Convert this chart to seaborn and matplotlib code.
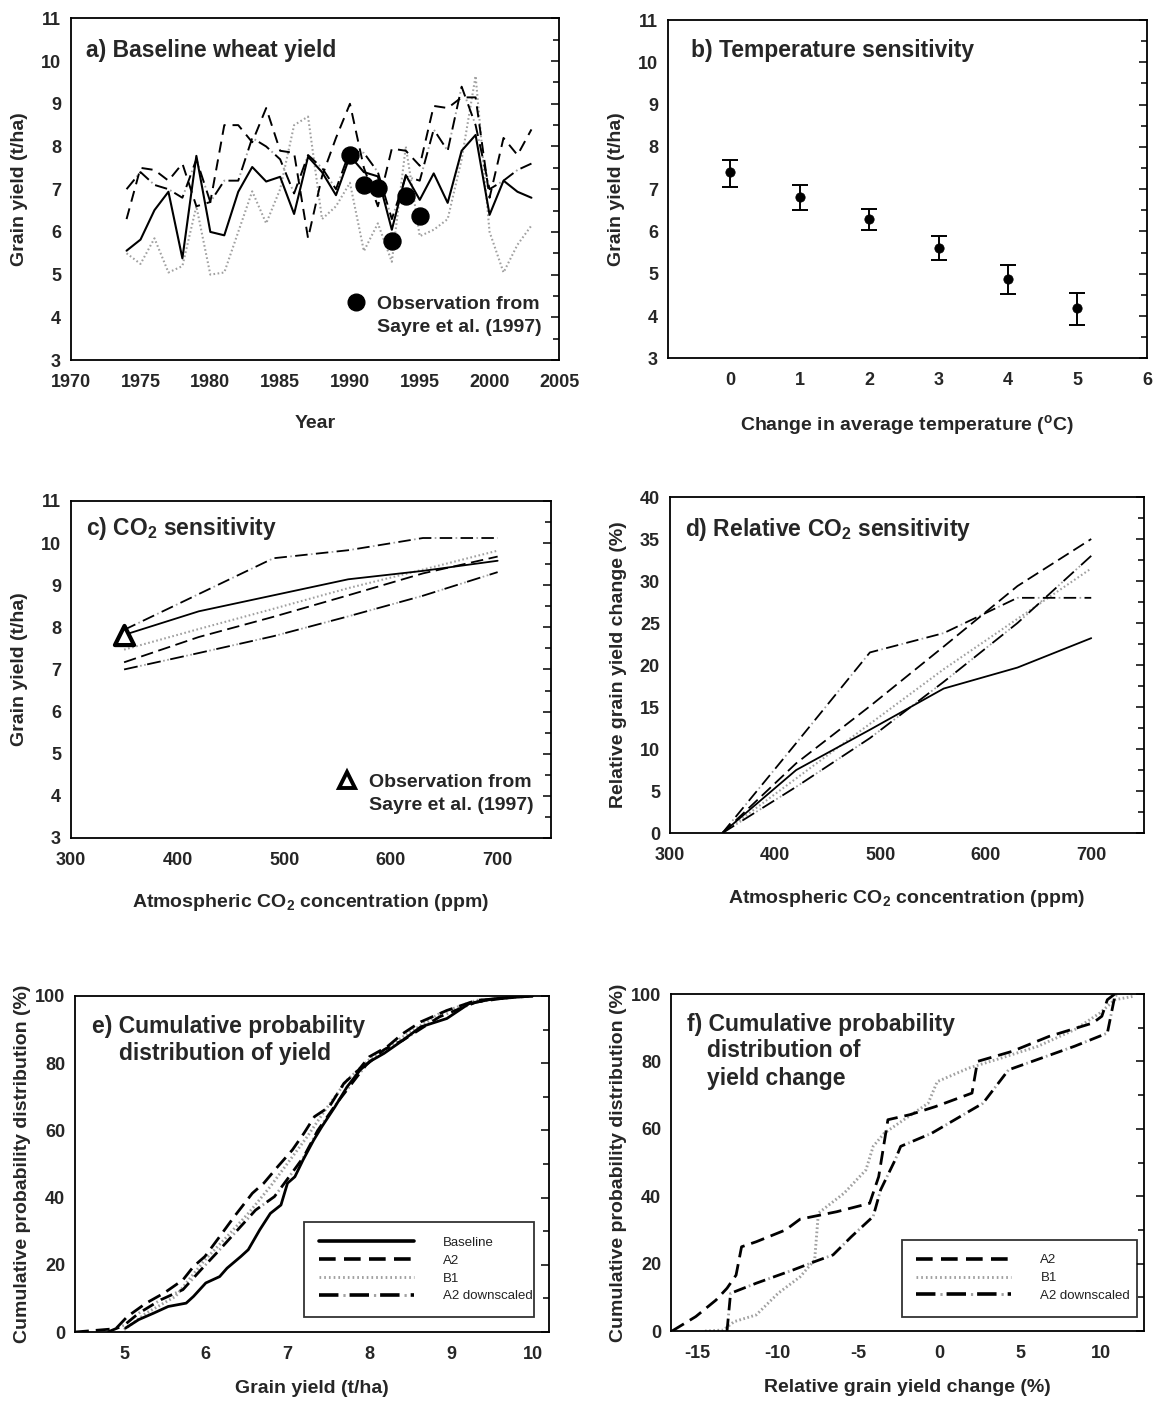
import numpy as np
import pandas as pd
import matplotlib
matplotlib.use("Agg")
import matplotlib.pyplot as plt
import seaborn as sns
from matplotlib.ticker import MultipleLocator
from matplotlib.lines import Line2D
from matplotlib.legend_handler import HandlerTuple

# ---------------- data ----------------
years = list(range(1974, 2004))
yield_baseline = [5.56, 5.82, 6.51, 6.94, 5.38, 7.78, 6.00, 5.92, 6.94, 7.52,
                  7.18, 7.29, 6.42, 7.76, 7.40, 6.86, 7.78, 7.40, 7.30, 6.05,
                  7.33, 6.75, 7.37, 6.68, 7.90, 8.27, 6.40, 7.20, 6.94, 6.80]
yield_a2 = [6.30, 7.50, 7.45, 7.20, 7.60, 6.60, 6.70, 8.50, 8.50, 8.10,
            8.90, 7.90, 7.85, 5.85, 7.30, 8.20, 9.00, 7.50, 6.60, 7.95,
            7.90, 7.55, 8.95, 8.90, 9.15, 9.15, 6.80, 8.20, 7.80, 8.40]
yield_b1 = [5.50, 5.25, 5.85, 5.05, 5.20, 6.60, 5.00, 5.05, 6.00, 6.95,
            6.20, 7.00, 8.50, 8.70, 6.30, 6.60, 7.15, 5.55, 6.20, 5.30,
            8.00, 5.90, 6.05, 6.30, 7.70, 9.65, 6.00, 5.05, 5.70, 6.15]
yield_a2_down = [7.00, 7.40, 7.10, 7.00, 6.80, 7.70, 6.70, 7.20, 7.20, 8.20,
                 8.00, 7.70, 6.90, 7.80, 7.50, 7.00, 7.90, 7.85, 7.40, 6.30,
                 7.30, 7.20, 8.40, 7.90, 9.40, 8.50, 7.00, 7.20, 7.45, 7.60]
obs_years = [1990, 1991, 1992, 1993, 1994, 1995]
obs_yield = [7.80, 7.10, 7.02, 5.78, 6.83, 6.38]

temp_change = [0, 1, 2, 3, 4, 5]
temp_yield = [7.40, 6.82, 6.30, 5.62, 4.88, 4.18]
temp_low = [7.05, 6.50, 6.03, 5.32, 4.53, 3.78]
temp_high = [7.70, 7.10, 6.53, 5.90, 5.20, 4.55]

co2_ppm = [350, 420, 490, 560, 630, 700]
co2_baseline = [7.82, 8.38, 8.76, 9.14, 9.34, 9.58]
co2_a2 = [7.17, 7.77, 8.25, 8.76, 9.28, 9.68]
co2_b1 = [7.47, 7.96, 8.44, 8.93, 9.37, 9.82]
co2_a2_down = [7.00, 7.39, 7.79, 8.26, 8.75, 9.31]
co2_other = [7.94, 8.79, 9.64, 9.83, 10.12, 10.12]
co2_obs_ppm = [350]
co2_obs_yield = [7.82]

rel_baseline = [0, 7.5, 12.3, 17.2, 19.7, 23.2]
rel_a2 = [0, 8.3, 15.1, 22.2, 29.4, 35.0]
rel_b1 = [0, 6.5, 13.0, 19.5, 25.5, 31.5]
rel_a2_down = [0, 5.5, 11.3, 18.0, 25.0, 33.0]
rel_other = [0, 10.7, 21.5, 23.8, 28.0, 28.0]

cdf_base_x = [5.02, 5.18, 5.36, 5.54, 5.76, 5.85, 6.00, 6.17, 6.26, 6.43, 6.52, 6.66,
              6.79, 6.92, 7.00, 7.09, 7.19, 7.32, 7.42, 7.58, 7.73, 7.89, 8.00, 8.18,
              8.41, 8.63, 8.95, 9.22, 9.53, 10.0]
cdf_base_y = [1.2, 3.7, 5.6, 7.6, 8.6, 10.6, 14.6, 16.5, 19.0, 22.5, 24.5, 30.4,
              35.3, 37.8, 44.3, 46.2, 51.2, 57.1, 61.1, 67.0, 73.0, 78.0, 80.4, 82.9,
              86.8, 90.8, 93.3, 97.7, 99.2, 100.0]
cdf_a2_x = [4.40, 4.65, 4.90, 5.04, 5.27, 5.49, 5.72, 5.85, 5.99, 6.17, 6.35, 6.57,
            6.71, 6.88, 7.06, 7.20, 7.33, 7.51, 7.69, 7.87, 8.00, 8.22, 8.41, 8.63,
            8.95, 9.31, 10.0]
cdf_a2_y = [0.0, 0.5, 1.0, 4.6, 8.6, 11.6, 15.5, 19.5, 22.5, 28.4, 34.4, 41.3,
            44.3, 49.2, 54.2, 59.1, 64.1, 67.0, 74.0, 78.0, 81.9, 84.9, 88.8, 92.3,
            95.7, 98.7, 100.0]
cdf_b1_x = [5.00, 5.27, 5.63, 5.99, 6.26, 6.52, 6.79, 7.00, 7.24, 7.46, 7.73, 8.00,
            8.41, 8.86, 9.31, 10.0]
cdf_b1_y = [0.7, 5.6, 10.6, 21.5, 28.4, 35.3, 43.3, 50.2, 58.1, 66.0, 75.0, 81.0,
            87.8, 94.8, 98.7, 100.0]
cdf_a2d_x = [4.80, 5.00, 5.18, 5.45, 5.72, 5.94, 6.17, 6.39, 6.61, 6.84, 7.02, 7.20,
             7.37, 7.60, 7.82, 7.96, 8.18, 8.41, 8.86, 9.31, 9.75, 10.0]
cdf_a2d_y = [0.0, 2.0, 5.6, 9.6, 12.6, 18.5, 24.5, 30.4, 36.3, 40.3, 46.2, 52.2,
             60.0, 68.0, 75.0, 79.4, 84.0, 86.8, 93.8, 98.2, 99.7, 100.0]

chg_a2_x = [-16.54, -15.07, -13.82, -13.14, -12.58, -12.24, -11.33, -9.52, -8.62, -6.36,
            -4.32, -3.76, -3.19, -1.83, -0.25, 2.01, 2.35, 4.50, 6.76, 9.48, 10.04, 10.38, 10.84]
chg_a2_y = [0.0, 4.3, 9.2, 12.7, 16.6, 25.0, 26.5, 30.0, 33.2, 35.4,
            37.9, 45.8, 62.7, 64.2, 66.6, 70.6, 80.0, 83.0, 87.4, 91.4, 93.4, 98.3, 100.0]
chg_b1_x = [-14.50, -13.37, -12.70, -11.33, -9.98, -8.62, -7.72, -7.49, -5.90, -4.55,
            -4.10, -3.42, -2.51, -0.70, -0.14, 1.79, 3.82, 6.09, 8.35, 9.93, 10.84, 11.97]
chg_b1_y = [0.0, 0.3, 2.8, 4.8, 11.2, 16.1, 21.1, 35.0, 40.9, 47.8,
            54.8, 58.7, 61.7, 67.6, 74.0, 78.0, 81.0, 84.5, 89.4, 94.4, 98.3, 99.3]
chg_a2d_x = [-13.14, -12.92, -11.33, -9.07, -7.72, -6.58, -5.45, -4.10, -3.64, -2.74,
             -2.40, -0.48, 2.69, 4.27, 6.31, 8.35, 10.38, 10.84, 11.06]
chg_a2d_y = [0.0, 11.2, 14.2, 18.1, 20.6, 22.6, 28.0, 34.0, 41.9, 50.8,
             54.8, 58.7, 67.6, 77.5, 81.0, 84.5, 88.4, 99.3, 100.0]

legend_e = ["Baseline", "A2", "B1", "A2 downscaled"]
legend_f = ["A2", "B1", "A2 downscaled"]

# ---------------- style ----------------
sns.set_style("white")
plt.rcParams["font.family"] = ["Liberation Sans", "DejaVu Sans"]
plt.rcParams["font.weight"] = "bold"
plt.rcParams["axes.labelweight"] = "bold"
plt.rcParams["axes.unicode_minus"] = False
plt.rcParams["mathtext.fontset"] = "custom"
plt.rcParams["mathtext.rm"] = "Liberation Sans:bold"
plt.rcParams["mathtext.bf"] = "Liberation Sans:bold"
plt.rcParams["mathtext.it"] = "Liberation Sans:bold:italic"
plt.rcParams["lines.scale_dashes"] = False

GREY = "#a0a0a0"
TICK_FS = 13
LABEL_FS = 14
TITLE_FS = 16.5

fig = plt.figure(figsize=(11.61, 14.02), dpi=100)
ax_a = fig.add_axes([0.0609, 0.7432, 0.4209, 0.2437])
ax_b = fig.add_axes([0.5751, 0.7444, 0.4128, 0.2413])
ax_c = fig.add_axes([0.0609, 0.4023, 0.4137, 0.2404])
ax_d = fig.add_axes([0.5768, 0.4058, 0.4085, 0.2397])
ax_e = fig.add_axes([0.0646, 0.0499, 0.4083, 0.2397])
ax_f = fig.add_axes([0.5780, 0.0506, 0.4074, 0.2404])


def draw(ax, x, y, style, lw=1.1, dash=(9, 4)):
    df = pd.DataFrame({"x": x, "y": y})
    kw = dict(data=df, x="x", y="y", ax=ax, estimator=None, sort=False, legend=False)
    if style == "solid":
        sns.lineplot(color="black", lw=lw, **kw)
    elif style == "dashed":
        sns.lineplot(color="black", lw=lw, linestyle=(0, dash), **kw)
    elif style == "dotted":
        sns.lineplot(color=GREY, lw=lw * 1.15, linestyle=(0, (1.2, 1.8)), **kw)
    elif style == "dashdot":
        on, off = 9, 6
        sns.lineplot(color="black", lw=lw, linestyle=(0, (on, off)), **kw)
        sns.lineplot(color=GREY, lw=lw, linestyle=(-(on + off / 2 - 0.6), (1.2, on + off - 1.2)), **kw)
    elif style == "dashdotdot":
        on, off = 10, 7
        sns.lineplot(color="black", lw=lw, linestyle=(0, (on, off)), **kw)
        sns.lineplot(color=GREY, lw=lw, linestyle=(-(on + 1.8), (1.2, 1.8, 1.2, on + off - 4.2)), **kw)


def style_axes(ax, xlim, ylim, xmaj, xmin, ymaj, ymin):
    ax.set_xlim(*xlim)
    ax.set_ylim(*ylim)
    ax.xaxis.set_major_locator(MultipleLocator(xmaj))
    ax.yaxis.set_major_locator(MultipleLocator(ymaj))
    if xmin:
        ax.xaxis.set_minor_locator(MultipleLocator(xmin))
    if ymin:
        ax.yaxis.set_minor_locator(MultipleLocator(ymin))
    ax.tick_params(which="both", direction="in", right=True, top=False,
                   labelsize=TICK_FS, width=1.1, color="black")
    ax.tick_params(which="major", length=6)
    ax.tick_params(which="minor", length=4)
    ax.tick_params(axis="x", which="major", pad=10)
    ax.tick_params(axis="y", which="major", pad=7)
    for s in ax.spines.values():
        s.set_visible(True)
        s.set_color("black")
        s.set_linewidth(1.3)
    for lab in ax.get_xticklabels() + ax.get_yticklabels():
        lab.set_fontweight("bold")


def obs_legend(ax, marker, mfc, ms, mew):
    h1 = Line2D([], [], marker=marker, color="black", mfc=mfc, ms=ms, mew=mew, linestyle="none")
    h2 = Line2D([], [], linestyle="none")
    leg = ax.legend([h1, h2], ["Observation from", "Sayre et al. (1997)"], loc="lower right",
                    bbox_to_anchor=(1.0, 0.02), frameon=False, fontsize=14,
                    handlelength=1.0, handletextpad=0.6, labelspacing=0.25, borderaxespad=0.5)
    for t in leg.get_texts():
        t.set_fontweight("bold")


# ---------------- a ----------------
draw(ax_a, years, yield_b1, "dotted", lw=1.3)
draw(ax_a, years, yield_a2_down, "dashdot", lw=1.4)
draw(ax_a, years, yield_a2, "dashed", lw=1.4, dash=(8, 5))
draw(ax_a, years, yield_baseline, "solid", lw=1.5)
sns.scatterplot(x=obs_years, y=obs_yield, ax=ax_a, color="black", s=150, edgecolor="black", zorder=5)
style_axes(ax_a, (1970, 2005), (3, 11), 5, None, 1, 0.5)
ax_a.text(0.032, 0.907, "a) Baseline wheat yield", transform=ax_a.transAxes, fontsize=TITLE_FS,
          fontweight="bold", va="center")
obs_legend(ax_a, "o", "black", 12, 1)
ax_a.set_xlabel("Year", fontsize=LABEL_FS, labelpad=17)
ax_a.set_ylabel("Grain yield (t/ha)", fontsize=LABEL_FS, labelpad=9)

# ---------------- b ----------------
err_lo = [m - l for m, l in zip(temp_yield, temp_low)]
err_hi = [h - m for m, h in zip(temp_yield, temp_high)]
ax_b.errorbar(temp_change, temp_yield, yerr=[err_lo, err_hi], fmt="none", ecolor="black",
              elinewidth=1.4, capsize=5.5, capthick=1.4)
sns.scatterplot(x=temp_change, y=temp_yield, ax=ax_b, color="black", s=45, edgecolor="black", zorder=5)
style_axes(ax_b, (-0.9, 6), (3, 11), 1, 0.5, 1, 0.5)
ax_b.text(0.049, 0.911, "b) Temperature sensitivity", transform=ax_b.transAxes, fontsize=TITLE_FS,
          fontweight="bold", va="center")
ax_b.set_xlabel(r"Change in average temperature ($^{\mathrm{o}}$C)", fontsize=LABEL_FS, labelpad=17)
ax_b.set_ylabel("Grain yield (t/ha)", fontsize=LABEL_FS, labelpad=9)

# ---------------- c ----------------
draw(ax_c, co2_ppm, co2_b1, "dotted", lw=1.3)
draw(ax_c, co2_ppm, co2_a2_down, "dashdotdot", lw=1.3)
draw(ax_c, co2_ppm, co2_other, "dashdot", lw=1.3)
draw(ax_c, co2_ppm, co2_a2, "dashed", lw=1.3)
draw(ax_c, co2_ppm, co2_baseline, "solid", lw=1.3)
sns.scatterplot(x=co2_obs_ppm, y=co2_obs_yield, ax=ax_c, marker="^", s=190, facecolor="white",
                edgecolor="black", linewidth=3, zorder=5)
style_axes(ax_c, (300, 750), (3, 11), 100, 50, 1, 0.5)
ax_c.text(0.032, 0.919, r"c) CO$_2$ sensitivity", transform=ax_c.transAxes, fontsize=TITLE_FS,
          fontweight="bold", va="center")
obs_legend(ax_c, "^", "white", 12, 2.8)
ax_c.set_xlabel(r"Atmospheric CO$_2$ concentration (ppm)", fontsize=LABEL_FS, labelpad=17)
ax_c.set_ylabel("Grain yield (t/ha)", fontsize=LABEL_FS, labelpad=9)

# ---------------- d ----------------
draw(ax_d, co2_ppm, rel_b1, "dotted", lw=1.3)
draw(ax_d, co2_ppm, rel_a2_down, "dashdotdot", lw=1.3)
draw(ax_d, co2_ppm, rel_other, "dashdot", lw=1.3)
draw(ax_d, co2_ppm, rel_a2, "dashed", lw=1.3)
draw(ax_d, co2_ppm, rel_baseline, "solid", lw=1.3)
style_axes(ax_d, (300, 750), (0, 40), 100, 50, 5, 2.5)
ax_d.text(0.032, 0.903, r"d) Relative CO$_2$ sensitivity", transform=ax_d.transAxes, fontsize=TITLE_FS,
          fontweight="bold", va="center")
ax_d.set_xlabel(r"Atmospheric CO$_2$ concentration (ppm)", fontsize=LABEL_FS, labelpad=17)
ax_d.set_ylabel("Relative grain yield change (%)", fontsize=LABEL_FS, labelpad=9)


# ---------------- legend handles for e/f ----------------
def handle(style, lw=2.6):
    if style == "solid":
        return Line2D([], [], color="black", lw=lw)
    if style == "dashed":
        return Line2D([], [], color="black", lw=lw, linestyle=(0, (12, 6)))
    if style == "dotted":
        return Line2D([], [], color=GREY, lw=lw * 0.8, linestyle=(0, (1.2, 2.2)))
    on, off = 14, 8
    return (Line2D([], [], color="black", lw=lw, linestyle=(0, (on, off))),
            Line2D([], [], color=GREY, lw=lw * 0.8, linestyle=(-(on + off / 2 - 0.8), (1.6, on + off - 1.6))))


def cdf_legend(ax, styles, labels, box):
    leg = ax.legend([handle(s) for s in styles], labels, loc="lower left", bbox_to_anchor=box,
                    mode="expand", fontsize=9.5, handlelength=7.2, handletextpad=2.2,
                    labelspacing=0.42, borderpad=1.1, borderaxespad=0, frameon=True, fancybox=False,
                    handler_map={tuple: HandlerTuple(ndivide=1)})
    leg.get_frame().set_edgecolor("black")
    leg.get_frame().set_linewidth(1.3)
    for t in leg.get_texts():
        t.set_fontweight("normal")
        t.set_color("#222222")


# ---------------- e ----------------
draw(ax_e, cdf_b1_x, cdf_b1_y, "dotted", lw=1.8)
draw(ax_e, cdf_a2d_x, cdf_a2d_y, "dashdot", lw=2.0)
draw(ax_e, cdf_a2_x, cdf_a2_y, "dashed", lw=2.0, dash=(10, 5))
draw(ax_e, cdf_base_x, cdf_base_y, "solid", lw=2.0)
style_axes(ax_e, (4.4, 10.2), (0, 100), 1, 0.5, 20, 10)
ax_e.text(0.035, 0.908, "e) Cumulative probability", transform=ax_e.transAxes, fontsize=TITLE_FS,
          fontweight="bold", va="center")
ax_e.text(0.093, 0.829, "distribution of yield", transform=ax_e.transAxes, fontsize=TITLE_FS,
          fontweight="bold", va="center")
cdf_legend(ax_e, ["solid", "dashed", "dotted", "dashdot"], legend_e, (0.484, 0.045, 0.485, 0.28))
ax_e.set_xlabel("Grain yield (t/ha)", fontsize=LABEL_FS, labelpad=12)
ax_e.set_ylabel("Cumulative probability distribution (%)", fontsize=LABEL_FS, labelpad=3)

# ---------------- f ----------------
draw(ax_f, chg_b1_x, chg_b1_y, "dotted", lw=1.8)
draw(ax_f, chg_a2d_x, chg_a2d_y, "dashdot", lw=2.0)
draw(ax_f, chg_a2_x, chg_a2_y, "dashed", lw=2.0, dash=(10, 5))
style_axes(ax_f, (-16.6, 12.65), (0, 100), 5, 2.5, 20, 10)
ax_f.text(0.034, 0.909, "f) Cumulative probability", transform=ax_f.transAxes, fontsize=TITLE_FS,
          fontweight="bold", va="center")
ax_f.text(0.077, 0.832, "distribution of", transform=ax_f.transAxes, fontsize=TITLE_FS,
          fontweight="bold", va="center")
ax_f.text(0.077, 0.750, "yield change", transform=ax_f.transAxes, fontsize=TITLE_FS,
          fontweight="bold", va="center")
cdf_legend(ax_f, ["dashed", "dotted", "dashdot"], legend_f, (0.488, 0.043, 0.497, 0.242))
ax_f.set_xlabel("Relative grain yield change (%)", fontsize=LABEL_FS, labelpad=12)
ax_f.set_ylabel("Cumulative probability distribution (%)", fontsize=LABEL_FS, labelpad=3)

fig.savefig("out.png", dpi=100)
